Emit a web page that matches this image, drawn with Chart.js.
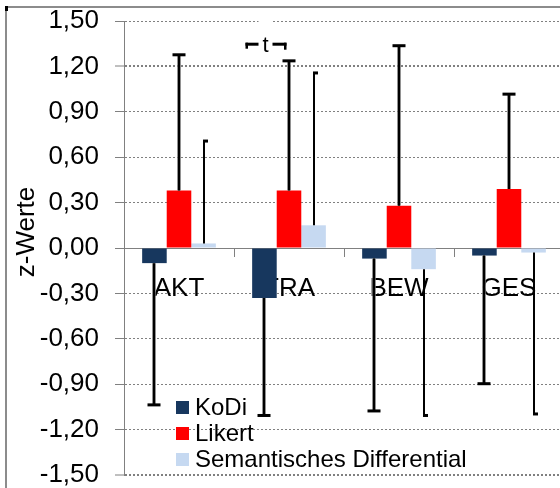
<!DOCTYPE html>
<html><head><meta charset="utf-8">
<script src="https://cdn.jsdelivr.net/npm/chart.js@4.4.1/dist/chart.umd.min.js"></script>
<style>
html,body{margin:0;padding:0;background:#fff;overflow:hidden;width:560px;height:488px}
#wrap{position:absolute;left:0;top:0;width:564px;height:488px}
</style>
</head><body><div id="wrap"><canvas id="c" width="564" height="488"></canvas></div>
<script>
// ---- data ----
const categories = ['AKT', 'TRA', 'BEW', 'GES'];
const seriesNames = ['KoDi', 'Likert', 'Semantisches Differential'];
const kodiValues = [-0.10, -0.33, -0.07, -0.05];
const likertValues = [0.38, 0.38, 0.28, 0.39];
const semanticValues = [0.03, 0.15, -0.14, -0.03];
// error bar end points (one-sided)
const kodiErrorEnds = [-1.04, -1.11, -1.08, -0.90];
const likertErrorEnds = [1.28, 1.24, 1.34, 1.02];
const semanticErrorEnds = [0.71, 1.16, -1.11, -1.10];
const yTicks = [-1.5, -1.2, -0.9, -0.6, -0.3, 0, 0.3, 0.6, 0.9, 1.2, 1.5];
const yTitle = 'z-Werte';
const annotationText = 't';
const annotationCategory = 1;
const annotationValue = 1.35;

const seriesColors = ['#17375E', '#FF0000', '#C6D9F1'];
const FONT = '"Liberation Sans", Arial, sans-serif';
const errorSets = [kodiErrorEnds, likertErrorEnds, semanticErrorEnds];
const errorStyles = ['thick', 'thick', 'thin'];

const extras = {
  id: 'extras',
  beforeDraw(chart) {
    const ctx = chart.ctx;
    ctx.save();
    ctx.fillStyle = '#fff';
    ctx.fillRect(0, 0, chart.width, chart.height);
    ctx.fillStyle = '#8c8c8c';
    ctx.fillRect(5, 6, chart.width, 2);
    ctx.fillRect(5, 6, 2, chart.height);
    ctx.fillStyle = '#000';
    ctx.fillRect(5, 6, 3, 5);
    ctx.restore();
  },
  afterDatasetsDraw(chart) {
    const ctx = chart.ctx, ys = chart.scales.y;
    ctx.save();
    errorSets.forEach((ends, di) => {
      const meta = chart.getDatasetMeta(di);
      meta.data.forEach((bar, i) => {
        const x = Math.round(bar.x);
        const y0 = bar.y;
        const y1 = ys.getPixelForValue(ends[i]);
        const dir = y1 < y0 ? -1 : 1;
        if (errorStyles[di] === 'thick') {
          ctx.lineWidth = 3.5; ctx.strokeStyle = '#6e6e6e';
          ctx.beginPath(); ctx.moveTo(x, y0); ctx.lineTo(x, y1); ctx.stroke();
          ctx.lineWidth = 2; ctx.strokeStyle = '#000';
          ctx.beginPath(); ctx.moveTo(x, y0); ctx.lineTo(x, y1); ctx.stroke();
          ctx.fillStyle = '#000';
          ctx.fillRect(x - 6.5, dir < 0 ? y1 - 1 : y1 - 2, 13, 3);
        } else {
          ctx.lineWidth = 2; ctx.strokeStyle = '#000';
          ctx.beginPath(); ctx.moveTo(x, y0); ctx.lineTo(x, y1); ctx.stroke();
          ctx.fillStyle = '#000';
          ctx.fillRect(x - 1, dir < 0 ? y1 - 1 : y1 - 2, 5, 3);
        }
      });
    });
    ctx.restore();
  },
  afterDraw(chart) {
    const ctx = chart.ctx, ys = chart.scales.y, xs = chart.scales.x;
    const area = chart.chartArea;
    ctx.save();
    // axis title
    ctx.fillStyle = '#000';
    ctx.font = '26px ' + FONT;
    ctx.textAlign = 'center';
    ctx.textBaseline = 'middle';
    ctx.translate(27, 232);
    ctx.rotate(-Math.PI / 2);
    ctx.fillText(yTitle, 0, 0);
    ctx.restore();

    // annotation "t" with bracket
    ctx.save();
    const cx = xs.getPixelForValue(annotationCategory) - 23.5;
    const cy = ys.getPixelForValue(annotationValue);
    ctx.fillStyle = '#fff';
    ctx.fillRect(cx - 7, area.top - 6, 14, 10);
    ctx.fillStyle = '#000';
    ctx.fillRect(cx - 20, cy - 1, 13, 3);
    ctx.fillRect(cx - 20, cy - 1, 2.5, 6);
    ctx.fillRect(cx + 7, cy - 1, 14, 3);
    ctx.fillRect(cx + 18.5, cy - 1, 2.5, 7);
    ctx.font = '22px ' + FONT;
    ctx.textAlign = 'center';
    ctx.textBaseline = 'middle';
    ctx.fillText(annotationText, cx, cy + 2);
    ctx.restore();

    // legend
    ctx.save();
    const lx = area.left + 52, ly = area.bottom - 68;
    ctx.font = '24px ' + FONT;
    ctx.textAlign = 'left';
    ctx.textBaseline = 'middle';
    chart.data.datasets.forEach((ds, i) => {
      const yy = ly + i * 26;
      ctx.fillStyle = ds.backgroundColor;
      ctx.fillRect(lx, yy - 6, 13, 13);
      ctx.fillStyle = '#000';
      ctx.fillText(ds.label, lx + 19, yy + 1);
    });
    ctx.restore();
  }
};

new Chart(document.getElementById('c'), {
  type: 'bar',
  data: {
    labels: categories,
    datasets: [
      { label: seriesNames[0], data: kodiValues, backgroundColor: seriesColors[0] },
      { label: seriesNames[1], data: likertValues, backgroundColor: seriesColors[1] },
      { label: seriesNames[2], data: semanticValues, backgroundColor: seriesColors[2] }
    ]
  },
  options: {
    responsive: false,
    animation: false,
    devicePixelRatio: 1,
    categoryPercentage: 0.67,
    barPercentage: 1.0,
    layout: { padding: { top: 21, bottom: 13, left: 0, right: 0 } },
    plugins: { legend: { display: false }, tooltip: { enabled: false } },
    scales: {
      x: {
        position: { y: 0 },
        offset: true,
        grid: { display: true, offset: true, drawOnChartArea: false, drawTicks: true, tickLength: 8, tickColor: '#808080', color: '#808080', tickWidth: 1 },
        border: { display: true, color: '#808080', width: 1 },
        ticks: { color: '#000', font: { family: FONT, size: 26 }, padding: 17, maxRotation: 0, autoSkip: false }
      },
      y: {
        min: -1.5, max: 1.5,
        afterBuildTicks: s => { s.ticks = yTicks.map(v => ({ value: v })); },
        afterFit: s => { s.width = 124; s.paddingTop = 0; s.paddingBottom = 0; },
        grid: {
          color: '#808080',
          lineWidth: c => (c.tick && (Math.abs(c.tick.value - 1.2) < 1e-6 || Math.abs(c.tick.value + 1.5) < 1e-6)) ? 2 : 1,
          drawTicks: true, tickLength: 9, tickColor: '#808080', tickWidth: 1, tickBorderDash: []
        },
        border: { display: true, color: '#808080', width: 1, dash: [2, 2] },
        ticks: {
          color: '#000', font: { family: FONT, size: 26, lineHeight: 1 }, padding: 16,
          callback: v => v.toFixed(2).replace('.', ',')
        }
      }
    }
  },
  plugins: [extras]
});
</script>
</body></html>
